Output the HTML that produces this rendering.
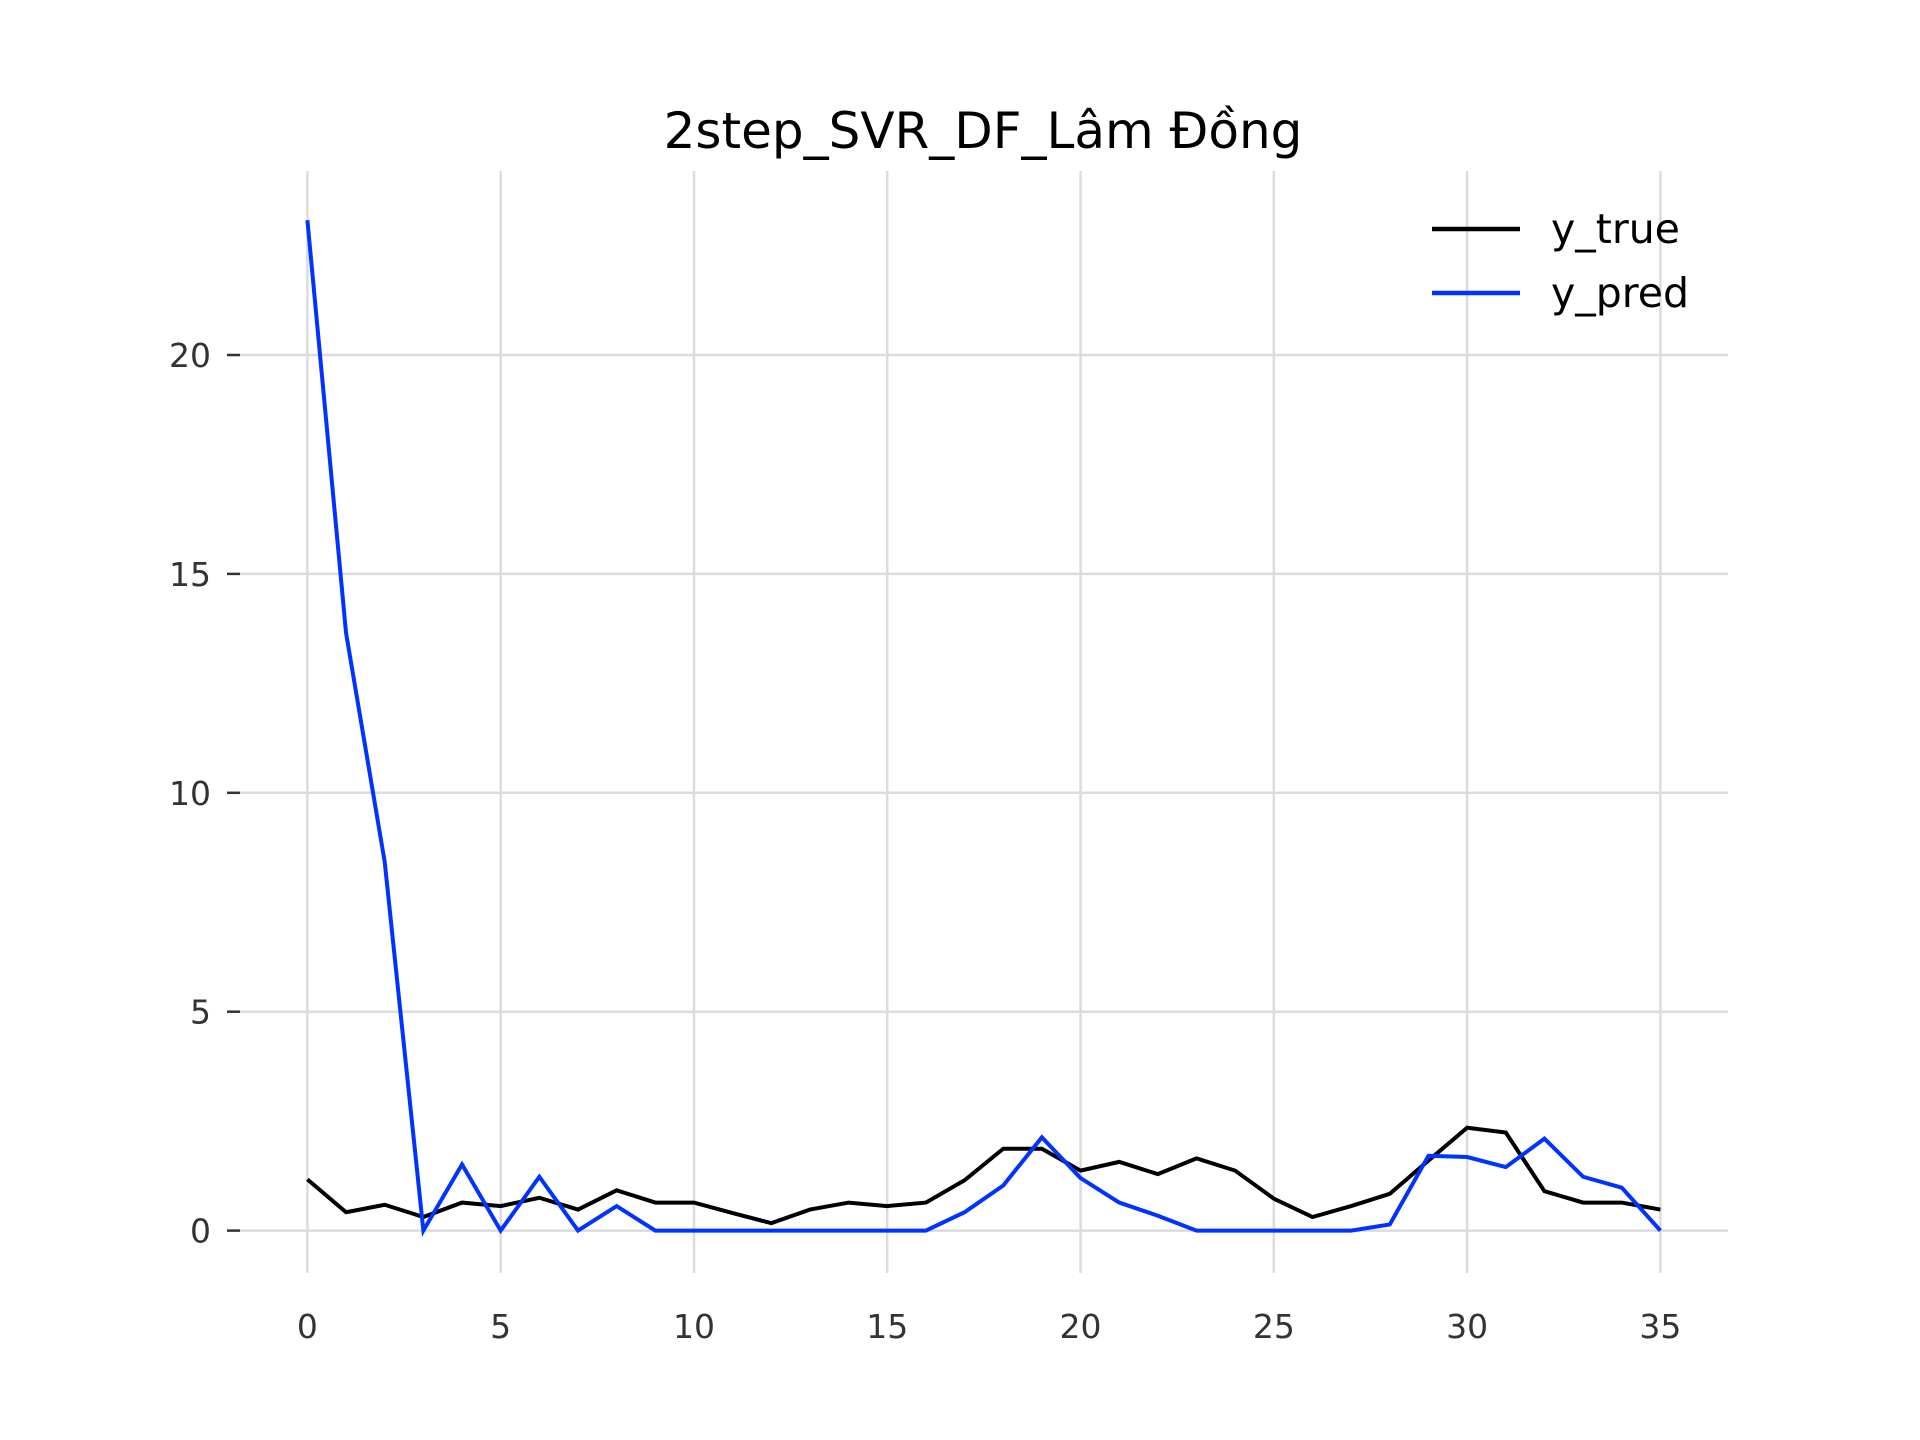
<!DOCTYPE html>
<html><head><meta charset="utf-8"><style>
html,body{margin:0;padding:0;background:#fff;}
svg{display:block;font-family:"DejaVu Sans","Liberation Sans",sans-serif;}
</style></head><body>
<svg id="chart" width="1920" height="1440" viewBox="0 0 1920 1440" xmlns="http://www.w3.org/2000/svg">
<rect width="1920" height="1440" fill="#fff"/>
<text x="983" y="148" font-size="50" text-anchor="middle" fill="#000">2step_SVR_DF_Lâm Đồng</text>
<g id="grid"></g>
<g id="axes"></g>
<g id="series"></g>
<g>
<line x1="1432" y1="229" x2="1520" y2="229" stroke="#000" stroke-width="4.5"/>
<text x="1551" y="243" font-size="41" fill="#000">y_true</text>
<line x1="1432" y1="293" x2="1520" y2="293" stroke="#0033ff" stroke-width="4.5"/>
<text x="1551" y="307" font-size="41" fill="#000">y_pred</text>
</g>
</svg>
<script>
const xTicks = [0,5,10,15,20,25,30,35];
const yTicks = [0,5,10,15,20];
const yTrue = [1.17,0.42,0.59,0.31,0.64,0.56,0.75,0.48,0.92,0.64,0.64,0.4,0.17,0.48,0.64,0.56,0.64,1.15,1.87,1.87,1.37,1.57,1.29,1.65,1.37,0.73,0.31,0.56,0.84,1.6,2.35,2.24,0.9,0.64,0.64,0.48];
const yPred = [23.08,13.65,8.42,0,1.51,0,1.23,0,0.56,0,0,0,0,0,0,0,0,0.42,1.03,2.13,1.2,0.64,0.34,0,0,0,0,0,0.14,1.71,1.68,1.45,2.1,1.23,0.98,0];

const NS="http://www.w3.org/2000/svg";
const L=240,R=1728,T=171,B=1273;
function xs(v){return 307.4+v*(1660.4-307.4)/35;}
function ys(v){return 1230.6-v*(1230.6-355)/20;}
function mk(tag,attrs,parent){const e=document.createElementNS(NS,tag);for(const k in attrs)e.setAttribute(k,attrs[k]);parent.appendChild(e);return e;}
const grid=document.getElementById('grid'),axes=document.getElementById('axes'),series=document.getElementById('series');
xTicks.forEach(t=>{
  const g=mk('line',{x1:xs(t),x2:xs(t),y1:T,y2:B,stroke:'#dcdcdc','stroke-width':2.5},grid);
  
  
  const tx=mk('text',{x:xs(t),y:1338,'font-size':33,'text-anchor':'middle',fill:'#333'},axes);
  
  
  tx.textContent=t;
});
yTicks.forEach(t=>{
  const g=mk('line',{x1:L,x2:R,y1:ys(t),y2:ys(t),stroke:'#dcdcdc','stroke-width':2.5},grid);
  
  
  const tk=mk('line',{x1:227,x2:240,y1:ys(t),y2:ys(t),stroke:'#333','stroke-width':2.5},axes);
  
  
  const tx=mk('text',{x:211,y:ys(t)+12,'font-size':33,'text-anchor':'end',fill:'#333'},axes);
  
  
  tx.textContent=t;
});
function line(data,color,name){
  const p=mk('polyline',{points:data.map((v,i)=>xs(i)+','+ys(v)).join(' '),fill:'none',stroke:color,'stroke-width':4,'stroke-linejoin':'miter'},series);
  
  
}
line(yTrue,'#000','y-true-line');
line(yPred,'#0033ff','y-pred-line');
</script>
</body></html>
